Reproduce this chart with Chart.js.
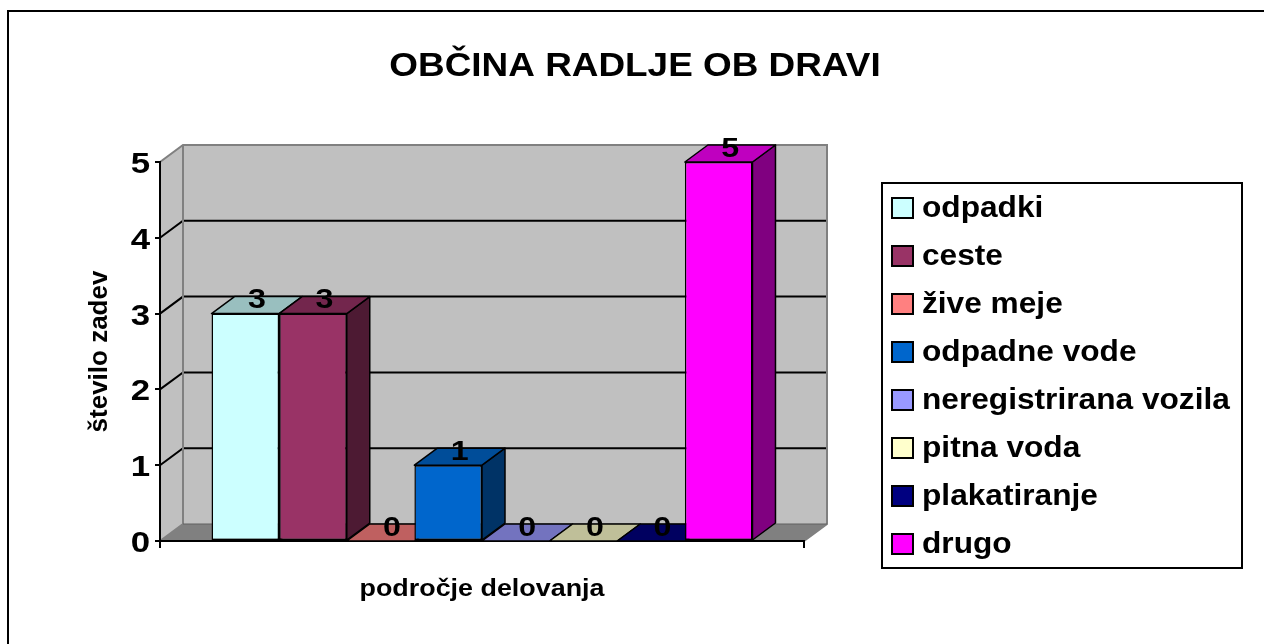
<!DOCTYPE html>
<html>
<head>
<meta charset="utf-8">
<script src="https://cdn.jsdelivr.net/npm/chart.js@4.4.1/dist/chart.umd.min.js"></script>
<style>
html,body{margin:0;padding:0;background:#fff;overflow:hidden}
#wrap{width:1264px;height:644px;position:relative}
canvas{display:block}
</style>
</head>
<body>
<div id="wrap"><canvas id="c" width="1264" height="644" style="width:1264px;height:644px"></canvas></div>
<script>
// ---- data ----
const chartTitle = 'OBČINA RADLJE OB DRAVI';
const categories = ['odpadki', 'ceste', 'žive meje', 'odpadne vode', 'neregistrirana vozila', 'pitna voda', 'plakatiranje', 'drugo'];
const values = [3, 3, 0, 1, 0, 0, 0, 5];
const colors = ['#CCFFFF', '#993366', '#FF8080', '#0066CC', '#9999FF', '#FFFFCC', '#000080', '#FF00FF'];
const yTickValues = [0, 1, 2, 3, 4, 5];
const xTitle = 'področje delovanja';
const yTitle = 'število zadev';

// ---- style constants ----
const DX = 23, DY = -17;
const FONT = '"Liberation Sans", Arial, sans-serif';

function shade(hex, f) {
  const n = parseInt(hex.slice(1), 16);
  const r = Math.round(((n >> 16) & 255) * f), g = Math.round(((n >> 8) & 255) * f), b = Math.round((n & 255) * f);
  return 'rgb(' + r + ',' + g + ',' + b + ')';
}
function txt(ctx, s, x, y, size, sx, align, base) {
  ctx.save();
  ctx.translate(x, y);
  ctx.scale(sx, 1);
  ctx.font = 'bold ' + size + 'px ' + FONT;
  ctx.textAlign = align;
  ctx.textBaseline = base || 'alphabetic';
  ctx.fillStyle = '#000';
  ctx.fillText(s, 0, 0);
  ctx.restore();
}
function poly(ctx, pts, fill, stroke, lw) {
  ctx.beginPath();
  ctx.moveTo(pts[0][0], pts[0][1]);
  for (let i = 1; i < pts.length; i++) ctx.lineTo(pts[i][0], pts[i][1]);
  ctx.closePath();
  if (fill) { ctx.fillStyle = fill; ctx.fill(); }
  if (stroke) { ctx.strokeStyle = stroke; ctx.lineWidth = lw || 1; ctx.stroke(); }
}

const threeD = {
  id: 'threeD',
  beforeDraw(chart) {
    const ctx = chart.ctx, ca = chart.chartArea, ys = chart.scales.y;
    ctx.save();
    ctx.fillStyle = '#fff';
    ctx.fillRect(0, 0, chart.width, chart.height);
    // outer frame
    ctx.strokeStyle = '#000'; ctx.lineWidth = 2;
    ctx.strokeRect(8, 11, 1400, 800);
    const L = ca.left, R = ca.right;
    const y0 = ys.getPixelForValue(0), yTop = ys.getPixelForValue(yTickValues[yTickValues.length - 1]);
    // side wall
    poly(ctx, [[L, yTop], [L + DX, yTop + DY], [L + DX, y0 + DY], [L, y0]], '#C0C0C0');
    // back wall
    poly(ctx, [[L + DX, yTop + DY], [R + DX, yTop + DY], [R + DX, y0 + DY], [L + DX, y0 + DY]], '#C0C0C0');
    // floor
    poly(ctx, [[L, y0], [L + DX, y0 + DY], [R + DX, y0 + DY], [R, y0]], '#808080');
    // grid lines on walls
    ctx.strokeStyle = '#000'; ctx.lineWidth = 2;
    yTickValues.forEach(v => {
      if (v === 0 || v === yTickValues[yTickValues.length - 1]) return;
      const yy = ys.getPixelForValue(v);
      ctx.beginPath();
      ctx.moveTo(L, yy); ctx.lineTo(L + DX, yy + DY); ctx.lineTo(R + DX, yy + DY);
      ctx.stroke();
    });
    // wall edges
    ctx.strokeStyle = '#808080'; ctx.lineWidth = 2;
    ctx.beginPath();
    ctx.moveTo(L, yTop); ctx.lineTo(L + DX, yTop + DY); ctx.lineTo(R + DX, yTop + DY);
    ctx.lineTo(R + DX, y0 + DY); ctx.lineTo(R, y0);
    ctx.moveTo(L + DX, yTop + DY); ctx.lineTo(L + DX, y0 + DY);
    ctx.moveTo(L, y0); ctx.lineTo(L + DX, y0 + DY);
    ctx.stroke();
    ctx.strokeStyle = '#606060'; ctx.lineWidth = 1;
    ctx.beginPath();
    ctx.moveTo(L + DX, y0 + DY); ctx.lineTo(R + DX, y0 + DY);
    ctx.stroke();
    ctx.restore();
  },
  beforeDatasetsDraw(chart) {
    const ctx = chart.ctx;
    ctx.save();
    ctx.lineJoin = 'round';
    chart.data.datasets.forEach((ds, i) => {
      const meta = chart.getDatasetMeta(i);
      meta.data.forEach(el => {
        const p = el.getProps(['x', 'y', 'base', 'width'], true);
        const l = p.x - p.width / 2, r = p.x + p.width / 2, t = p.y, b = p.base;
        const c = colors[i];
        if (b - t > 0.5) {
          poly(ctx, [[r, t], [r + DX, t + DY], [r + DX, b + DY], [r, b]], shade(c, 0.5), '#000', 1.5);
        }
        poly(ctx, [[l, t], [r, t], [r + DX, t + DY], [l + DX, t + DY]], shade(c, 0.75), '#000', 1.5);
      });
    });
    ctx.restore();
  },
  afterDraw(chart) {
    const ctx = chart.ctx, ca = chart.chartArea, ys = chart.scales.y;
    // y tick labels
    ys.ticks.forEach(tk => {
      const yy = ys.getPixelForValue(tk.value);
      txt(ctx, String(tk.value), ca.left - 10, yy + 11, 29, 1.2, 'right');
    });
    // data labels
    chart.data.datasets.forEach((ds, i) => {
      const meta = chart.getDatasetMeta(i);
      meta.data.forEach((el, j) => {
        const p = el.getProps(['x', 'y'], true);
        txt(ctx, String(ds.data[j]), p.x + DX / 2, p.y + DY / 2 + 3, 28, 1.15, 'center');
      });
    });
    // title
    txt(ctx, chartTitle, 635, 76, 33, 1.118, 'center');
    // x title
    txt(ctx, xTitle, (ca.left + ca.right) / 2, 596, 24, 1.12, 'center');
    // y title
    ctx.save();
    ctx.translate(107, (ca.top + ca.bottom) / 2);
    ctx.rotate(-Math.PI / 2);
    ctx.font = 'bold 26px ' + FONT;
    ctx.textAlign = 'center';
    ctx.textBaseline = 'alphabetic';
    ctx.fillStyle = '#000';
    ctx.fillText(yTitle, 0, 0);
    ctx.restore();
    // legend
    ctx.save();
    ctx.strokeStyle = '#000'; ctx.lineWidth = 2;
    ctx.strokeRect(882, 183, 360, 385);
    chart.data.datasets.forEach((ds, i) => {
      const top = 198 + 48 * i;
      ctx.fillStyle = ds.backgroundColor;
      ctx.fillRect(892, top, 21, 20);
      ctx.lineWidth = 2; ctx.strokeStyle = '#000';
      ctx.strokeRect(892, top, 21, 20);
      txt(ctx, ds.label, 922, top + 19, 30, 1.055, 'left');
    });
    ctx.restore();
  }
};

new Chart(document.getElementById('c'), {
  type: 'bar',
  data: {
    labels: [''],
    datasets: categories.map((c, i) => ({
      label: c,
      data: [values[i]],
      backgroundColor: colors[i],
      borderColor: '#000',
      borderWidth: 1.5,
      borderSkipped: false,
      categoryPercentage: 0.84,
      barPercentage: 1.0
    }))
  },
  options: {
    responsive: false,
    devicePixelRatio: 1,
    animation: false,
    layout: { padding: { left: 0, top: 162, right: 460, bottom: 0 } },
    plugins: { legend: { display: false }, title: { display: false }, tooltip: { enabled: false } },
    scales: {
      x: {
        type: 'category',
        offset: true,
        ticks: { display: false },
        grid: { display: true, offset: true, drawOnChartArea: false, drawTicks: true, tickLength: 7, color: '#000', lineWidth: 2 },
        border: { display: true, color: '#000', width: 2 },
        afterFit(s) { s.height = 103; }
      },
      y: {
        min: yTickValues[0],
        max: yTickValues[yTickValues.length - 1],
        ticks: { stepSize: 1, display: false },
        grid: { display: true, drawOnChartArea: false, drawTicks: true, tickLength: 5, color: '#000', lineWidth: 2 },
        border: { display: true, color: '#000', width: 2 },
        afterFit(s) { s.width = 160; }
      }
    }
  },
  plugins: [threeD]
});
</script>
</body>
</html>
